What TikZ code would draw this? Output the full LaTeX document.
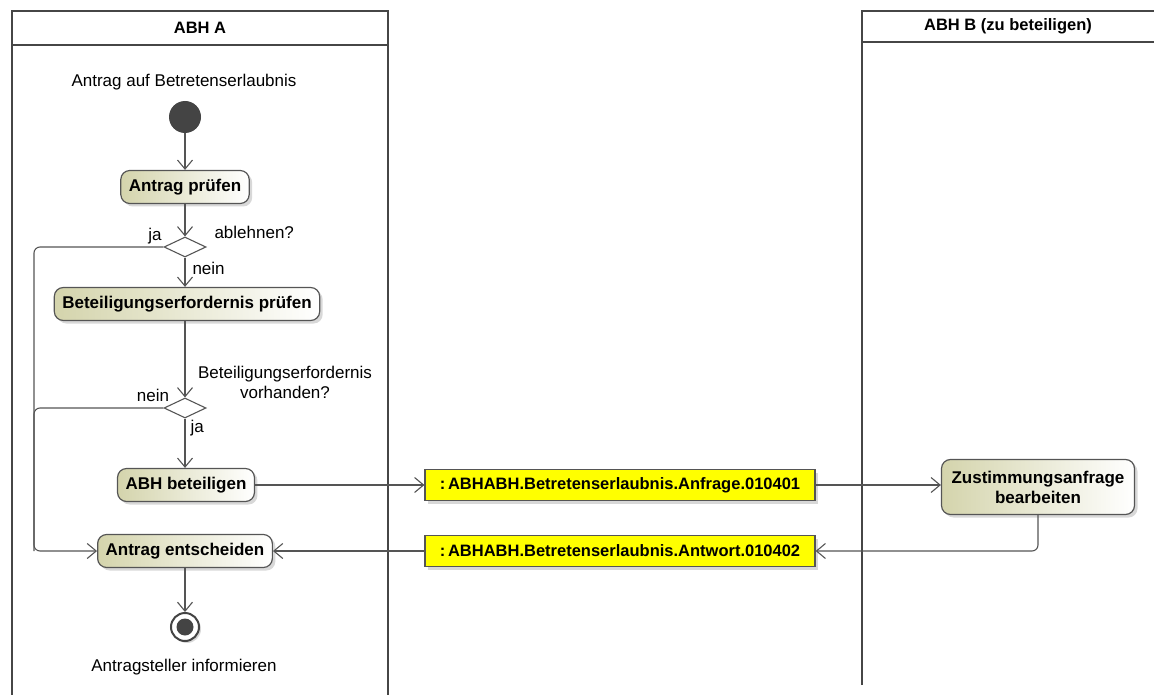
\documentclass[tikz,border=0pt]{standalone}
\usepackage{fontspec}
\setmainfont{Liberation Sans}
\usetikzlibrary{positioning, arrows.meta, shapes.geometric, shadows}
\definecolor{lanegray}{RGB}{70,70,70}
\definecolor{flowgray}{RGB}{85,85,85}
\definecolor{actfill}{RGB}{212,212,172}
\definecolor{objyellow}{RGB}{255,255,0}
\definecolor{startgray}{RGB}{68,68,68}

\begin{document}
\begin{tikzpicture}[x=1pt, y=-1pt,
    every node/.style={font=\fontsize{17}{20}\selectfont},
    lane/.style={line width=2pt, draw=lanegray},
    flow/.style={draw=flowgray, line width=1.1pt, rounded corners=6pt, -{Straight Barb[length=9pt, width=15pt]}},
    action/.style={draw=flowgray, line width=1.2pt, rounded corners=9pt, left color=actfill, right color=white,
      font=\fontsize{17}{20}\selectfont\bfseries, minimum height=33pt, inner xsep=8pt, align=center,
      drop shadow={shadow xshift=3pt, shadow yshift=-3pt, fill=black!30}},
    object/.style={draw=flowgray, line width=1.2pt, fill=objyellow, font=\fontsize{16.5}{19}\selectfont\bfseries,
      minimum width=390pt, minimum height=31pt,
      drop shadow={shadow xshift=3pt, shadow yshift=-3pt, fill=black!30}},
    decision/.style={diamond, draw=flowgray, line width=1.1pt, fill=white, inner sep=0pt, minimum width=42pt, minimum height=20pt}]
  \useasboundingbox (0,0) rectangle (1154,695);
  % Swimlane ABH A
  \draw[lane] (12,695) -- (12,11) -- (388,11) -- (388,695);
  \draw[lane] (12,45) -- (388,45);
  \node[font=\fontsize{16.5}{19}\selectfont\bfseries] (titleA) at (200,28) {ABH A};
  % Swimlane ABH B
  \draw[lane] (862,685) -- (862,11) -- (1160,11);
  \draw[lane] (862,42) -- (1160,42);
  \node[font=\fontsize{16.5}{19}\selectfont\bfseries] (titleB) at (1008,26) {ABH B (zu beteiligen)};

  % start
  \node (startlabel) at (184,82) {Antrag auf Betretenserlaubnis};
  \node[circle, fill=startgray, minimum size=32pt, inner sep=0pt] (start) at (185,117) {};
  \node[action] (pruefen) at (185,187) {Antrag pr\"ufen};
  \node[decision] (ablehnen) at (185,247) {};
  \node[anchor=west] (ablehnenlabel) at (211,232) {ablehnen?};
  \node (jaA) at (155,236) {ja};
  \node[anchor=west] (neinA) at (189,268) {nein};
  \node[action] (erfordernis) at (187,304) {Beteiligungserfordernis pr\"ufen};
  \node[decision] (vorhanden) at (185,408) {};
  \node[align=center] (vorhandenlabel) at (285,382) {Beteiligungserfordernis\\vorhanden?};
  \node (neinB) at (153,395) {nein};
  \node[anchor=west] (jaB) at (187,428) {ja};
  \node[action] (beteiligen) at (186,485) {ABH beteiligen};
  \node[action] (entscheiden) at (185,551) {Antrag entscheiden};
  % end
  \node[circle, draw=startgray, line width=2pt, fill=white, minimum size=28pt, inner sep=0pt,
    drop shadow={shadow xshift=2pt, shadow yshift=-2pt, fill=black!30}] (stop) at (185,627) {};
  \node[circle, fill=startgray, minimum size=17pt, inner sep=0pt] (stopdot) at (stop) {};
  \node (stoplabel) at (184,667) {Antragsteller informieren};

  % objects
  \node[object] (anfrage) at (620,485) {:\,ABHABH.Betretenserlaubnis.Anfrage.010401};
  \node[object] (antwort) at (620,551) {:\,ABHABH.Betretenserlaubnis.Antwort.010402};
  \node[action, minimum width=193pt, minimum height=55pt] (zustimmung) at (1038,487) {Zustimmungsanfrage\\bearbeiten};

  \coordinate (bus) at (34,551);

  % flows
  \draw[flow] (start) -- (pruefen);
  \draw[flow] (pruefen) -- (ablehnen);
  \draw[flow] (ablehnen) -- (ablehnen |- erfordernis.north);
  \draw[flow] (ablehnen.west) -| (bus) -- (entscheiden.west);
  \draw[flow, -] (vorhanden.west) -| (bus);
  \draw[flow] (erfordernis.south -| vorhanden) -- (vorhanden);
  \draw[flow] (vorhanden) -- (vorhanden |- beteiligen.north);
  \draw[flow] (beteiligen) -- (anfrage);
  \draw[flow] (anfrage) -- (anfrage -| zustimmung.west);
  \draw[flow] (zustimmung.south) |- (antwort.east);
  \draw[flow] (antwort) -- (entscheiden);
  \draw[flow] (entscheiden) -- (stop);
\end{tikzpicture}
\end{document}
